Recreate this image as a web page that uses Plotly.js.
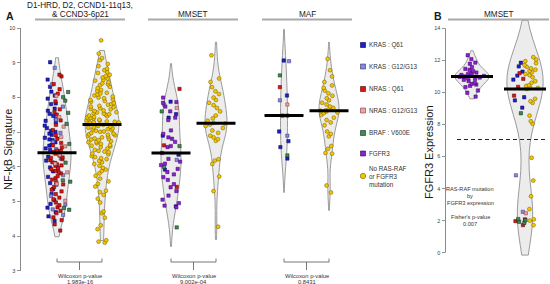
<!DOCTYPE html>
<html><head><meta charset="utf-8">
<script src="https://cdn.plot.ly/plotly-3.0.1.min.js"></script>
<style>html,body{margin:0;padding:0;background:#fff}#chart{width:550px;height:284px}</style>
</head><body><div id="chart"></div>
<script>
// ================= DATA =================
const categoryNames = ['KRAS : Q61', 'KRAS : G12/G13', 'NRAS : Q61', 'NRAS : G12/G13', 'BRAF : V600E', 'FGFR3', 'No RAS-RAF<br>or FGFR3<br>mutation'];
const groupNamesA = ['D1-HRD, D2, CCND1-11q13,', '& CCND3-6p21', 'MMSET', 'MAF'];
const groupNameB = 'MMSET';
const wilcoxonP = ['1.983e-16', '9.002e-04', '0.8431'];
const fisherP = '0.007';
const fgfr3Threshold = 7.06;

// Panel A: NF-kB signature — D1-HRD, D2, CCND1-11q13 & CCND3-6p21
const d1_krasQ61 = [9.02, 8.52, 8.31, 8.17, 8.06, 7.97, 7.83, 7.81, 7.68, 7.62, 7.53, 7.47, 7.38, 7.33, 7.27, 7.19, 7.12, 7.04, 7.01, 6.96, 6.92, 6.84, 6.79, 6.77, 6.71, 6.64, 6.61, 6.53, 6.49, 6.44, 6.29, 6.18, 6.11, 5.98, 5.87, 5.71, 5.53, 5.36, 5.22, 5.04, 4.93, 4.82, 4.69, 4.57, 4.44];
const d1_krasG12 = [8.86, 8.38, 7.74, 7.36, 6.98, 6.72, 6.51, 6.24, 5.97, 5.76, 5.48, 5.16, 4.91, 4.77, 4.61];
const d1_nrasQ61 = [8.66, 8.61, 8.39, 8.24, 8.11, 7.89, 7.66, 7.58, 7.51, 7.34, 7.21, 7.06, 6.91, 6.81, 6.69, 6.62, 6.56, 6.47, 6.43, 6.38, 6.33, 6.27, 6.22, 6.19, 6.13, 6.07, 6.03, 5.96, 5.93, 5.85, 5.81, 5.73, 5.67, 5.63, 5.56, 5.49, 5.42, 5.34, 5.29, 5.21, 5.11, 5.06, 4.97, 4.89, 4.83, 4.73, 4.66, 4.54, 4.46, 4.34, 4.16, 6.46, 6.26, 6.04, 5.88];
const d1_nrasG12 = [8.04, 7.44, 7.16, 6.86, 6.59, 6.34, 6.09, 5.84, 5.51, 5.02];
const d1_braf = [8.16, 8.01, 7.91, 7.56, 7.24, 6.66, 6.12, 5.61, 5.57, 4.81, 4.76];
const d1_none = [9.65, 9.27, 9.14, 9.08, 8.97, 8.91, 8.83, 8.79, 8.74, 8.66, 8.62, 8.58, 8.51, 8.49, 8.44, 8.38, 8.36, 8.31, 8.27, 8.22,
  8.19, 8.14, 8.09, 8.06, 8.03, 7.98, 7.95, 7.93, 7.88, 7.84, 7.81, 7.79, 7.74, 7.72, 7.69, 7.66, 7.63, 7.61, 7.58, 7.55,
  7.54, 7.51, 7.48, 7.46, 7.44, 7.41, 7.39, 7.38, 7.36, 7.34, 7.31, 7.3, 7.28, 7.27, 7.25, 7.24, 7.23, 8.41, 8.12, 7.9,
  7.67, 7.52, 7.43, 8.55, 8.0, 7.76, 7.33, 7.57, 8.71, 7.29,
  7.21, 7.18, 7.16, 7.13, 7.11, 7.08, 7.06, 7.04, 7.01, 6.98, 6.96, 6.93, 6.91, 6.87, 6.85, 6.82, 6.79, 6.77, 6.74, 6.71,
  6.68, 6.66, 6.63, 6.59, 6.57, 6.53, 6.49, 6.46, 6.42, 6.38, 6.36, 6.31, 6.28, 6.22, 6.17, 6.13, 6.08, 6.03, 5.97, 5.92,
  5.88, 5.81, 5.74, 5.66, 5.58, 5.51, 5.43, 5.31, 5.27, 5.19, 5.08, 4.97, 4.71, 4.66, 4.53, 4.31, 4.2, 3.88, 3.84, 3.81,
  7.14, 7.02, 6.89, 6.72, 6.61, 6.44, 6.25, 6.94, 6.8, 7.09];

// Panel A: MMSET
const mmset_krasQ61 = [7.88, 7.52, 7.42, 6.9, 6.35, 5.92, 4.86];
const mmset_krasG12 = [7.8, 6.2];
const mmset_nrasQ61 = [8.25, 6.62, 5.42];
const mmset_nrasG12 = [7.7];
const mmset_braf = [7.6, 6.6, 6.0, 4.25];
const mmset_fgfr3 = [8.0, 7.87, 7.85, 7.74, 7.42, 7.35, 7.05, 6.85, 6.81, 6.72, 6.6, 6.57, 6.4, 6.23, 6.15, 6.09, 6.05, 5.94, 5.85, 5.78, 5.7, 5.62, 5.5, 5.41, 5.3, 5.17, 5.05, 4.95, 4.88, 4.83, 7.6, 6.95];
const mmset_none = [9.22, 8.55, 8.45, 8.3, 8.18, 8.1, 8.0, 7.93, 7.85, 7.78, 7.7, 7.6, 7.48, 7.4, 7.33, 7.27, 7.25, 7.22, 7.18, 7.12, 7.05, 6.98, 6.9, 6.85, 6.8, 6.75, 6.22, 6.18, 6.08, 5.72, 5.3, 4.27];

// Panel A: MAF
const maf_krasQ61 = [9.07, 8.06, 7.48, 7.02, 6.74, 6.57, 6.24];
const maf_krasG12 = [9.05, 7.92, 6.9];
const maf_nrasQ61 = [8.3, 7.48];
const maf_nrasG12 = [7.8];
const maf_braf = [8.64, 6.33];
const maf_none = [9.12, 8.79, 8.61, 8.45, 8.35, 8.28, 8.2, 8.12, 8.05, 7.98, 7.92, 7.85, 7.8, 7.74, 7.7, 7.66, 7.63, 7.62, 7.6, 7.57, 7.55, 7.5, 7.42, 7.35, 7.28, 7.2, 7.02, 6.95, 6.88, 6.6, 6.52, 6.4, 6.38, 5.46, 5.26];

// Panel B: FGFR3 expression in MMSET
const fgfr3Expr_fgfr3 = [12.32, 12.08, 11.86, 11.79, 11.58, 11.47, 11.41, 11.33, 11.24, 11.19, 11.16, 11.09, 11.06, 11.03, 11.0, 10.97, 10.93, 10.88, 10.84, 10.79, 10.71, 10.6, 10.53, 10.49, 10.41, 10.33, 10.12, 9.98, 9.74];
const fgfr3Expr_krasQ61 = [11.85, 11.62, 11.3, 11.05, 10.8, 9.7, 9.5, 9.05];
const fgfr3Expr_krasG12 = [4.83, 2.55];
const fgfr3Expr_nrasQ61 = [11.2, 10.85, 10.35, 9.8, 2.08, 1.97, 1.72];
const fgfr3Expr_nrasG12 = [2.46];
const fgfr3Expr_braf = [8.7, 2.1, 2.02, 1.93, 1.86];
const fgfr3Expr_none = [12.2, 12.05, 11.95, 11.82, 11.7, 11.6, 11.5, 11.42, 11.35, 11.25, 11.15, 11.08, 10.95, 10.7, 10.6, 10.45, 10.4, 10.3, 10.28, 10.26, 10.22, 9.6, 9.45, 9.35, 8.55, 8.2, 8.05, 5.92, 4.5, 3.52, 2.72, 2.08, 2.0, 1.72];

// violin extents (value range of each drawn violin)
const violinSpans = [[3.98, 9.15], [3.87, 9.36], [3.7, 8.98], [3.9, 9.6], [5.26, 9.97], [4.74, 9.6], [9.6, 12.6], [-0.15, 14.5]];

// ================= STYLE / LAYOUT =================
const FONT = '"Liberation Sans", Arial, Helvetica, sans-serif';
const W = 550, H = 284;
const X = v => v / W, Y = v => 1 - v / H;
const catStyle = [
  {color: '#1f1fcf', line: '#00004d', symbol: 'square', size: 3.3},
  {color: '#8888e4', line: '#33336e', symbol: 'square', size: 3.3},
  {color: '#dc1414', line: '#4d0000', symbol: 'square', size: 3.3},
  {color: '#f2a0a0', line: '#7a3a3a', symbol: 'square', size: 3.3},
  {color: '#3f8a55', line: '#0d2a16', symbol: 'square', size: 3.3},
  {color: '#8a22d2', line: '#3a0060', symbol: 'square', size: 3.3},
  {color: '#f3c600', line: '#6e5a00', symbol: 'circle', size: 3.9}
];
// group geometry in px: center, violin width, point-cloud width
const groupLayout = [
  {p: 'A', pos: 57, vw: 28, pw: 30},
  {p: 'A', pos: 102, vw: 34, pw: 34},
  {p: 'A', pos: 171, vw: 20, pw: 22},
  {p: 'A', pos: 216, vw: 22, pw: 22},
  {p: 'A', pos: 284, vw: 7, pw: 13},
  {p: 'A', pos: 329, vw: 20, pw: 21},
  {p: 'B', pos: 472, vw: 34, pw: 27},
  {p: 'B', pos: 525, vw: 36, pw: 30}
];
const groupSeries = [
  [d1_krasQ61, d1_krasG12, d1_nrasQ61, d1_nrasG12, d1_braf, null, null],
  [null, null, null, null, null, null, d1_none],
  [mmset_krasQ61, mmset_krasG12, mmset_nrasQ61, mmset_nrasG12, mmset_braf, mmset_fgfr3, null],
  [null, null, null, null, null, null, mmset_none],
  [maf_krasQ61, maf_krasG12, maf_nrasQ61, maf_nrasG12, maf_braf, null, null],
  [null, null, null, null, null, null, maf_none],
  [null, null, null, null, null, fgfr3Expr_fgfr3, null],
  [fgfr3Expr_krasQ61, fgfr3Expr_krasG12, fgfr3Expr_nrasQ61, fgfr3Expr_nrasG12, fgfr3Expr_braf, null, fgfr3Expr_none]
];
const pointPos = {
  0: [-0.35, 0.1, 0.05, 0.3, 0.65, 0, 0],
  7: [-0.4, -0.35, -0.35, -0.1, -0.2, 0, 0.45]
};
const jitterTab = {
  0: [0.55, 0.6, 0.55, 0.5, 0.35, 0, 0],
  7: [0.45, 0.4, 0.45, 0.3, 0.3, 0, 0.55]
};

function median(a) {
  const s = [...a].sort((p, q) => p - q), n = s.length;
  return n % 2 ? s[(n - 1) / 2] : (s[n / 2 - 1] + s[n / 2]) / 2;
}

const traces = [], shapes = [], annotations = [];

groupLayout.forEach((g, gi) => {
  const series = groupSeries[gi];
  const all = [].concat(...series.filter(Boolean));
  const ax = g.p === 'A' ? {xaxis: 'x', yaxis: 'y'} : {xaxis: 'x2', yaxis: 'y2'};
  traces.push(Object.assign({
    type: 'violin', x0: g.pos, y: all, width: g.vw, points: false,
    spanmode: 'manual', span: violinSpans[gi], scalemode: 'width',
    fillcolor: '#ececec', line: {color: '#909090', width: 0.9},
    box: {visible: false}, meanline: {visible: false},
    hoverinfo: 'skip', showlegend: false
  }, ax));
  // median bar
  const half = g.p === 'A' ? 19.5 : 21;
  shapes.push({type: 'line', xref: 'paper', yref: g.p === 'A' ? 'y' : 'y2',
    x0: X(g.pos - half), x1: X(g.pos + half), y0: median(all), y1: median(all),
    line: {color: '#000', width: 3}, layer: 'above'});
});

// points layer
groupLayout.forEach((g, gi) => {
  const ax = g.p === 'A' ? {xaxis: 'x', yaxis: 'y'} : {xaxis: 'x2', yaxis: 'y2'};
  groupSeries[gi].forEach((arr, ci) => {
    if (!arr) return;
    const st = catStyle[ci];
    traces.push(Object.assign({
      type: 'violin', x0: g.pos, y: arr, width: g.pw, points: 'all',
      pointpos: pointPos[gi] ? pointPos[gi][ci] : 0,
      jitter: jitterTab[gi] ? jitterTab[gi][ci] : 1,
      bandwidth: 0.3, spanmode: 'hard',
      fillcolor: 'rgba(0,0,0,0)', line: {color: 'rgba(0,0,0,0)', width: 0},
      marker: {symbol: st.symbol, size: st.size, color: st.color, line: {color: st.line, width: 0.5}},
      box: {visible: false}, meanline: {visible: false},
      hoverinfo: 'skip', showlegend: false
    }, ax));
  });
});

function pline(x0, y0, x1, y1, color, width, dash) {
  shapes.push({type: 'line', xref: 'paper', yref: 'paper', x0: X(x0), y0: Y(y0), x1: X(x1), y1: Y(y1),
    line: {color: color, width: width, dash: dash || 'solid'}});
}
function txt(t, x, y, size, opts) {
  annotations.push(Object.assign({text: t, x: X(x), y: Y(y), xref: 'paper', yref: 'paper',
    showarrow: false, xanchor: 'center', yanchor: 'middle', borderpad: 0,
    font: {family: FONT, size: size, color: '#1a1a1a'}}, opts || {}));
}

// header labels and lines
txt(groupNamesA[0], 80, 5.5, 8.2);
txt(groupNamesA[1], 80, 14.5, 8.2);
txt(groupNamesA[2], 193, 14.5, 8.2);
txt(groupNamesA[3], 307, 14.5, 8.2);
txt(groupNameB, 499, 14.5, 8.2);
pline(35, 19.5, 125, 19.5, '#a9a9a9', 2);
pline(148, 19.5, 238, 19.5, '#a9a9a9', 2);
pline(262, 19.5, 352, 19.5, '#a9a9a9', 2);
pline(448, 19.5, 549, 19.5, '#a9a9a9', 2);

// panel letters
txt('<b>A</b>', 10, 16, 10.5);
txt('<b>B</b>', 438, 16, 10.5);

// axis titles
txt('NF-kB Signature', 8, 150, 11, {textangle: -90});
txt('FGFR3 Expression', 429, 152, 11, {textangle: -90});

// Wilcoxon brackets
[[0, 1], [2, 3], [4, 5]].forEach((pr, k) => {
  const xl = groupLayout[pr[0]].pos, xr = groupLayout[pr[1]].pos, xm = (xl + xr) / 2;
  pline(xl, 262, xr, 262, '#555', 0.8);
  pline(xl, 262, xl, 258.5, '#555', 0.8);
  pline(xr, 262, xr, 258.5, '#555', 0.8);
  pline(xm, 262, xm, 270, '#555', 0.8);
  txt('Wilcoxon p-value', xm, 275.5, 5.8, {font: {family: FONT, size: 5.8, color: '#333'}});
  txt(wilcoxonP[k], xm, 282.3, 5.8, {font: {family: FONT, size: 5.8, color: '#333'}});
});

// legend
const legendRows = [45, 66.5, 89, 110.5, 133, 153.5, 176];
categoryNames.forEach((name, ci) => {
  const st = catStyle[ci], y = legendRows[ci], r = st.symbol === 'circle' ? 2.7 : 2.5;
  shapes.push({type: st.symbol === 'circle' ? 'circle' : 'rect', xref: 'paper', yref: 'paper',
    x0: X(363 - r), x1: X(363 + r), y0: Y(y + r), y1: Y(y - r),
    fillcolor: st.color, line: {color: st.line, width: 0.6}});
  txt(name, 368, y, 6.3, {xanchor: 'left', align: 'left', font: {family: FONT, size: 6.3, color: '#333'}});
});

// panel B extras
shapes.push({type: 'line', xref: 'paper', yref: 'y2', x0: X(445.5), x1: X(445.5), y0: 0, y1: 14,
  line: {color: '#8a8a8a', width: 1}});
shapes.push({type: 'line', xref: 'paper', yref: 'y2', x0: X(457), x1: X(546), y0: fgfr3Threshold, y1: fgfr3Threshold,
  line: {color: '#222', width: 1.1, dash: '4px,3px'}, layer: 'above'});
const bTxt = {font: {family: FONT, size: 5.6, color: '#333'}};
txt('RAS-RAF mutation', 470, 189, 5.6, bTxt);
txt('by', 470, 196, 5.6, bTxt);
txt('FGFR3 expression', 470, 203, 5.6, bTxt);
txt("Fisher's p-value", 470, 217, 5.6, bTxt);
txt(fisherP, 470, 223.5, 5.6, bTxt);

const yTick = {family: FONT, size: 5.5, color: '#444'};
const layout = {
  width: W, height: H, margin: {l: 0, r: 0, t: 0, b: 0},
  paper_bgcolor: '#fff', plot_bgcolor: 'rgba(0,0,0,0)',
  showlegend: false, hovermode: false, violinmode: 'overlay',
  font: {family: FONT},
  xaxis: {domain: [X(20.5), X(360)], range: [20.5, 360], type: 'linear', visible: false, fixedrange: true},
  yaxis: {domain: [Y(270.7), Y(28.3)], range: [3, 10], tick0: 3, dtick: 1, ticks: 'outside', ticklen: 3,
    tickwidth: 0.8, tickcolor: '#777', tickfont: yTick, showline: true, linecolor: '#8a8a8a', linewidth: 1,
    showgrid: false, zeroline: false, anchor: 'x'},
  xaxis2: {domain: [X(445.5), 1], range: [445.5, 550], type: 'linear', visible: false, anchor: 'y2'},
  yaxis2: {domain: [Y(258.3), Y(18.7)], range: [-0.35, 14.6], tickvals: [0, 2, 4, 6, 8, 10, 12, 14],
    ticks: 'outside', ticklen: 3, tickwidth: 0.8, tickcolor: '#777', tickfont: yTick, showline: false,
    showgrid: false, zeroline: false, anchor: 'x2'},
  shapes: shapes, annotations: annotations
};

Plotly.newPlot('chart', traces, layout, {staticPlot: true, displayModeBar: false});
</script>
</body></html>
